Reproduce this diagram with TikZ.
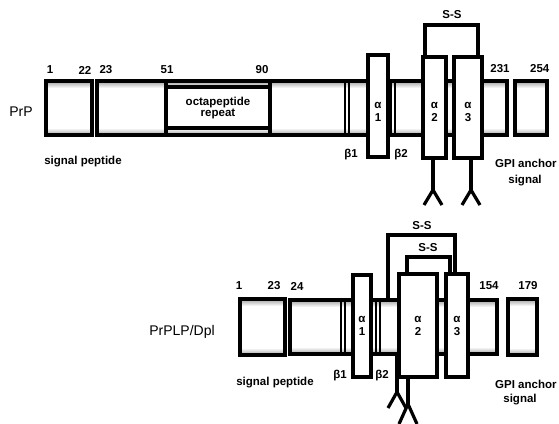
\documentclass[tikz,border=0pt]{standalone}
\usepackage{fontspec}
\setmainfont{Liberation Sans}
\newcommand\txbox[4]{%
  \fill[white] (#1,#2) rectangle (#3,#4);
  \shade[top color=gray!75, bottom color=white] (#1,#2) rectangle (#3,#2+7);
  \shade[top color=white, bottom color=gray!75] (#1,#4-7) rectangle (#3,#4);
}
\tikzset{
  bd/.style={line width=3.4pt},
  wbox/.style={line width=3.4pt, fill=white},
  thinln/.style={line width=1.5pt},
  glyc/.style={line width=3.2pt},
  lbl/.style={font=\bfseries\fontsize{11.5}{12.5}\selectfont, inner sep=0pt},
  big/.style={font=\fontsize{14}{16}\selectfont, inner sep=0pt},
}
\begin{document}
\begin{tikzpicture}[x=1pt,y=-1pt]
\useasboundingbox (0,0) rectangle (559,423);
\fill[white] (0,0) rectangle (559,423);

% ================= PrP =================
\txbox{46}{81}{92}{135}
\txbox{97}{81}{507}{135}
\txbox{515}{81}{547}{135}
\draw[bd] (46,81) rectangle (92,135);
\draw[bd] (97,81) rectangle (507,135);
\draw[bd] (515,81) rectangle (547,135);
\draw[wbox] (166,87) rectangle (270,128);
\draw[bd] (166,81) -- (166,135);
\draw[bd] (270,81) -- (270,135);
\draw[thinln] (345,81) -- (345,135);
\draw[thinln] (349,81) -- (349,135);
\draw[thinln] (391,81) -- (391,135);
\draw[thinln] (395,81) -- (395,135);
\draw[wbox] (368,55) rectangle (388,157);
\draw[wbox] (423,57) rectangle (446,158);
\draw[wbox] (454,57) rectangle (482,158);
\coordinate (ssa) at (425,57);
\coordinate (ssb) at (478,57);
\draw[bd] (ssa) -- (425,25) -- (478,25) -- (ssb);
\draw[glyc] (433,158) -- (433,190);
\draw[glyc] (424,205) -- (433,190) -- (442,205);
\draw[glyc] (471,158) -- (471,190);
\draw[glyc] (462,205) -- (471,190) -- (480,205);

\node[big] (prp) at (21,112) {PrP};
\node[lbl] (n1) at (50,70) {1};
\node[lbl] (n22) at (85,70) {22};
\node[lbl] (n23) at (106,70) {23};
\node[lbl] (n51) at (167,70) {51};
\node[lbl] (n90) at (262,70) {90};
\node[lbl] (n231) at (500,69) {231};
\node[lbl, anchor=west] (n254) at (530,69) {254};
\node[lbl] (sp1) at (83,162) {signal peptide};
\node[lbl, align=center] (oct) at (218,108) {octapeptide\\[-1pt]repeat};
\node[lbl] (b1a) at (351,155) {β1};
\node[lbl] (b2a) at (401,155) {β2};
\node[lbl, align=center] (a1a) at (378,112) {α\\[1pt]1};
\node[lbl, align=center] (a2a) at (434.5,112) {α\\[1pt]2};
\node[lbl, align=center] (a3a) at (468,112) {α\\[1pt]3};
\node[lbl, anchor=west] (gpia) at (495,163) {GPI anchor};
\node[lbl] (sga) at (525,181) {signal};
\node[lbl] (ssl) at (452,15) {S-S};

% ================= PrPLP/Dpl =================
\txbox{240}{299}{285}{355}
\txbox{290}{300}{497}{354}
\txbox{508}{299}{537}{355}
\draw[bd] (240,299) rectangle (285,355);
\draw[bd] (290,300) rectangle (497,354);
\draw[bd] (508,299) rectangle (537,355);
\draw[thinln] (341,300) -- (341,354);
\draw[thinln] (345,300) -- (345,354);
\draw[thinln] (376,300) -- (376,354);
\draw[thinln] (380,300) -- (380,354);
\draw[wbox] (353,275) rectangle (371,377);
\draw[wbox] (399,274) rectangle (437,377);
\draw[wbox] (446,274) rectangle (468,377);
\draw[bd] (388,300) -- (388,235) -- (455,235) -- (455,274);
\draw[bd] (407,274) -- (407,257) -- (450,257) -- (450,274);
\draw[glyc] (397,354) -- (397,392);
\draw[glyc] (388,408) -- (397,392) -- (406,408);
\draw[glyc] (408,377) -- (408,404);
\draw[glyc] (399,424) -- (408,404) -- (417,424);

\node[big] (dpl) at (182,332) {PrPLP/Dpl};
\node[lbl] (m1) at (239,286) {1};
\node[lbl] (m23) at (274,286) {23};
\node[lbl] (m24) at (297,286) {24};
\node[lbl] (m154) at (489,286) {154};
\node[lbl] (m179) at (528,286) {179};
\node[lbl] (sp2) at (275,383) {signal peptide};
\node[lbl] (b1b) at (340,376) {β1};
\node[lbl] (b2b) at (382,376) {β2};
\node[lbl, align=center] (a1b) at (362,326) {α\\[1pt]1};
\node[lbl, align=center] (a2b) at (418,326) {α\\[1pt]2};
\node[lbl, align=center] (a3b) at (457,326) {α\\[1pt]3};
\node[lbl] (ss1) at (422,226) {S-S};
\node[lbl] (ss2) at (428,248) {S-S};
\node[lbl, anchor=west] (gpib) at (495,384) {GPI anchor};
\node[lbl] (sgb) at (520,400) {signal};
\end{tikzpicture}
\end{document}
